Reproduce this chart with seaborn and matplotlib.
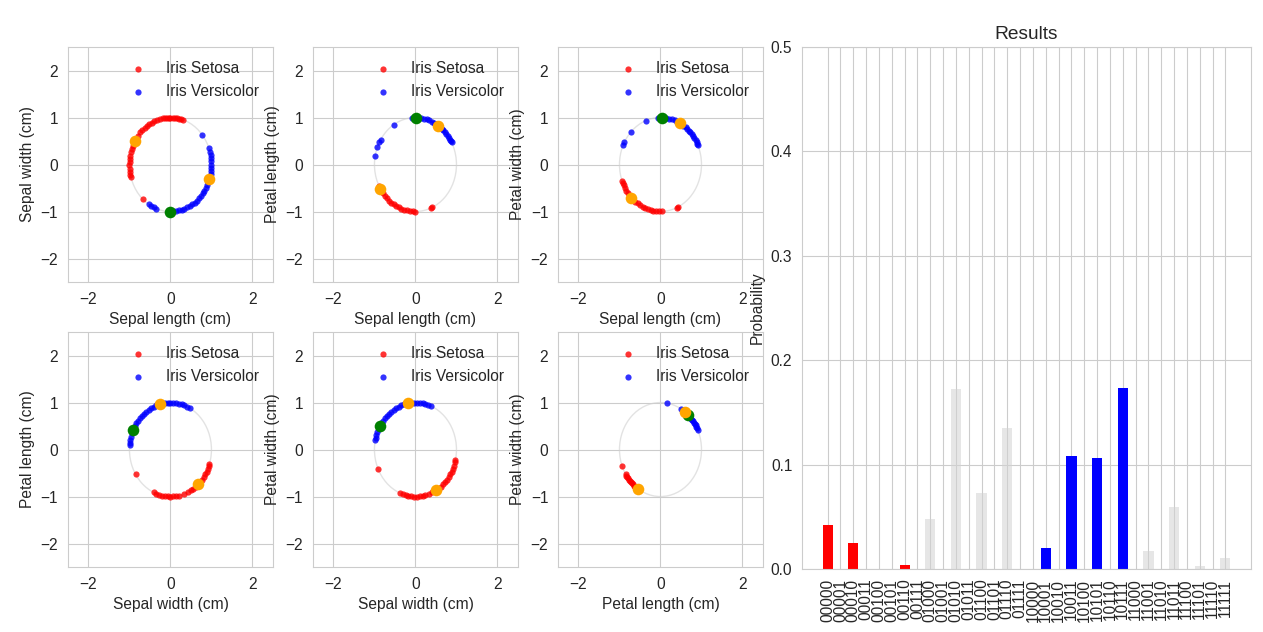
import numpy as np
import pandas as pd
import matplotlib
matplotlib.use("Agg")
import matplotlib.pyplot as plt
import seaborn as sns

# ---------------------------------------------------------------------------
# Data: normalised feature pairs as angles (degrees) on the unit circle
# ---------------------------------------------------------------------------
x_labels = ["Sepal length (cm)", "Sepal length (cm)", "Sepal length (cm)",
            "Sepal width (cm)", "Sepal width (cm)", "Petal length (cm)"]
y_labels = ["Sepal width (cm)", "Petal length (cm)", "Petal width (cm)",
            "Petal length (cm)", "Petal width (cm)", "Petal width (cm)"]

setosa_deg_1 = [72, 75, 78, 81, 84, 87, 90, 92, 95, 98, 101, 105, 109, 113, 117,
                121, 125, 129, 133, 137, 142, 147, 153, 157, 161, 165, 169, 173,
                177, 181, 185, 189, 193, 196, 228]
versicolor_deg_1 = [39, 20, 16, 12, 8, 4, 0, -4, -8, -12, -22, -26, -30, -34, -38,
                    -42, -46, -50, -54, -58, -62, -66, -70, -74, -78, -82, -86,
                    -110, -114, -118, -122]
setosa_deg_2 = [207, 210, 214, 218, 222, 226, 230, 234, 238, 242, 246, 250, 254,
                258, 262, 266, 270, 292, 294]
versicolor_deg_2 = [28, 30, 32, 35, 38, 41, 44, 47, 50, 53, 60, 63, 66, 70, 74, 78,
                    82, 86, 92, 95, 122, 148, 152, 158, 170]
setosa_deg_3 = [200, 203, 206, 210, 214, 218, 222, 228, 232, 236, 240, 244, 248,
                252, 256, 260, 264, 268, 272, 293, 296]
versicolor_deg_3 = [24, 26, 28, 31, 34, 37, 40, 43, 46, 49, 52, 56, 60, 66, 70, 74,
                    78, 82, 86, 93, 111, 136, 152, 156]
setosa_deg_4 = [212, 246, 250, 254, 258, 262, 266, 270, 274, 278, 282, 290, 296,
                300, 304, 308, 316, 320, 324, 328, 332, 336, 340, 342]
versicolor_deg_4 = [62, 66, 70, 74, 78, 82, 86, 90, 94, 98, 110, 114, 118, 122, 126,
                    130, 134, 138, 142, 146, 150, 160, 164, 168, 172, 175]
setosa_deg_5 = [205, 248, 252, 256, 260, 264, 268, 272, 276, 280, 284, 290, 294,
                304, 308, 312, 316, 320, 324, 328, 332, 336, 340, 344, 347]
versicolor_deg_5 = [68, 72, 76, 80, 84, 88, 92, 96, 106, 110, 114, 118, 122, 126,
                    130, 134, 138, 142, 146, 154, 158, 162, 166, 168]
setosa_deg_6 = [201, 212, 214, 216, 218, 220, 222, 224, 226, 228, 230, 232]
versicolor_deg_6 = [25, 27, 29, 31, 33, 35, 37, 39, 41, 43, 45, 47, 49, 51, 53, 55,
                    57, 60, 81]

orange_deg = [[150, -18], [211, 56], [225, 62], [105, 312], [101, 300], [236, 54]]
green_deg = [-90, 89, 88, 155, 150, 47]

setosa_deg = [setosa_deg_1, setosa_deg_2, setosa_deg_3,
              setosa_deg_4, setosa_deg_5, setosa_deg_6]
versicolor_deg = [versicolor_deg_1, versicolor_deg_2, versicolor_deg_3,
                  versicolor_deg_4, versicolor_deg_5, versicolor_deg_6]

# Measurement outcome probabilities for the 5-qubit register
states = [format(i, "05b") for i in range(32)]
probabilities = [0.042, 0.0, 0.025, 0.0, 0.0, 0.0, 0.004, 0.0,
                 0.048, 0.0, 0.172, 0.0, 0.073, 0.0, 0.135, 0.0,
                 0.0, 0.020, 0.0, 0.108, 0.0, 0.106, 0.0, 0.173,
                 0.0, 0.017, 0.0, 0.059, 0.0, 0.003, 0.0, 0.011]


def to_xy(deg):
    rad = np.deg2rad(np.asarray(deg, dtype=float))
    return np.cos(rad), np.sin(rad)


# ---------------------------------------------------------------------------
# Style
# ---------------------------------------------------------------------------
sns.set_style("whitegrid")
plt.rcParams["font.family"] = ["Liberation Sans", "DejaVu Sans"]
plt.rcParams["font.size"] = 11.2
plt.rcParams["axes.titlesize"] = 13.8
plt.rcParams["axes.labelsize"] = 11.2
plt.rcParams["xtick.labelsize"] = 11.2
plt.rcParams["ytick.labelsize"] = 11.2
plt.rcParams["legend.fontsize"] = 11.2

fig = plt.figure(figsize=(12.63, 6.32), dpi=100)

col_left = [0.0538, 0.2478, 0.4418]
row_bottom = [0.5538, 0.1028]
w, h = 0.1623, 0.3718

for k in range(6):
    r, c = divmod(k, 3)
    ax = fig.add_axes([col_left[c], row_bottom[r], w, h])
    ax.add_patch(plt.Circle((0, 0), 1.0, fill=False, color="#d0d0d0",
                            alpha=0.6, lw=1.0))
    sx, sy = to_xy(setosa_deg[k])
    vx, vy = to_xy(versicolor_deg[k])
    sns.scatterplot(x=sx, y=sy, color="red", s=20, alpha=0.8, linewidth=0,
                    label="Iris Setosa", ax=ax)
    sns.scatterplot(x=vx, y=vy, color="blue", s=20, alpha=0.8, linewidth=0,
                    label="Iris Versicolor", ax=ax)
    gx, gy = to_xy([green_deg[k]])
    sns.scatterplot(x=gx, y=gy, color="green", s=70, linewidth=0, ax=ax)
    ox, oy = to_xy(orange_deg[k])
    sns.scatterplot(x=ox, y=oy, color="orange", s=70, linewidth=0, ax=ax)
    ax.set_xlim(-2.5, 2.5)
    ax.set_ylim(-2.5, 2.5)
    ax.set_xticks([-2, 0, 2])
    ax.set_yticks([-2, -1, 0, 1, 2])
    ax.set_xlabel(x_labels[k])
    ax.set_ylabel(y_labels[k])
    ax.legend(loc="upper right", frameon=False, scatterpoints=1)

# ---------------------------------------------------------------------------
# Probability histogram
# ---------------------------------------------------------------------------
class_colour = {"00": "red", "10": "blue"}
palette = {s: class_colour.get(s[:2], "lightgray") for s in states}
bars = pd.DataFrame({"state": states, "probability": probabilities})

axb = fig.add_axes([0.635, 0.0997, 0.3555, 0.826])
sns.barplot(data=bars, x="state", y="probability", hue="state", order=states,
            hue_order=states, palette=palette, saturation=1, width=0.8,
            legend=False, ax=axb)
for patch in axb.patches:
    r_, g_, b_, _ = patch.get_facecolor()
    if abs(r_ - g_) < 1e-3 and abs(g_ - b_) < 1e-3:
        patch.set_alpha(0.55)
    patch.set_edgecolor("none")
axb.xaxis.grid(True)
axb.set_xlim(-2, 33)
axb.set_ylim(0, 0.5)
axb.set_yticks([0.0, 0.1, 0.2, 0.3, 0.4, 0.5])
axb.tick_params(axis="x", rotation=90)
axb.set_title("Results")
axb.set_xlabel("")
axb.set_ylabel("Probability")

fig.savefig("out.png", dpi=100)
